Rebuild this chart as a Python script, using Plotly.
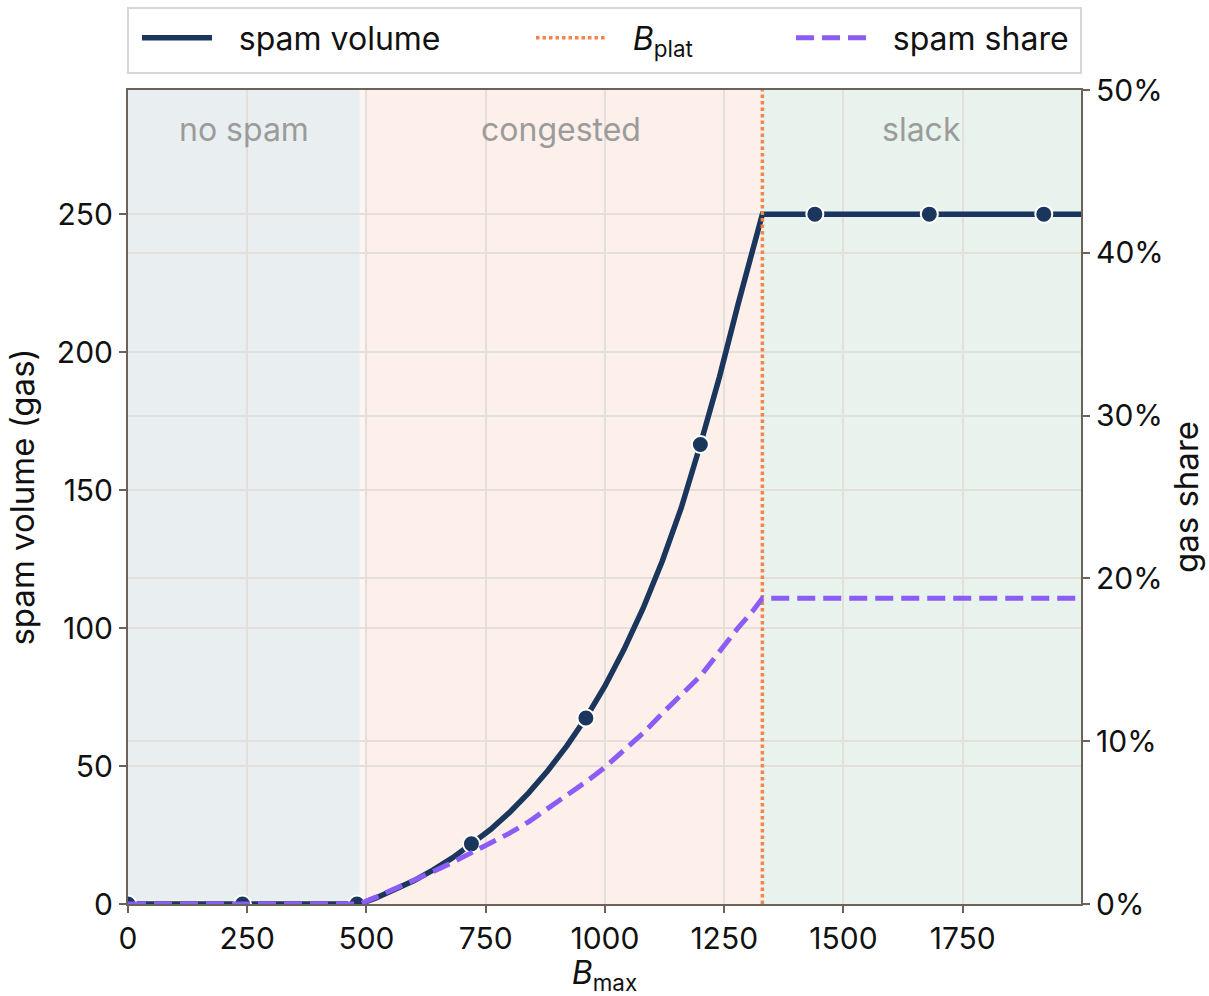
import plotly.graph_objects as go

# ---------------- data ----------------
b_max = [0, 240, 480, 486, 520, 560, 600, 640, 680, 720, 760, 800, 840, 880, 920,
         960, 1000, 1040, 1080, 1120, 1160, 1200, 1240, 1280, 1310, 1330,
         1440, 1680, 1920, 1998]
spam_volume = [0, 0, 0, 0, 2.2, 5.1, 8.5, 12.4, 16.7, 21.8, 27.0, 33.2, 40.3, 48.3, 57.3,
               67.4, 79.0, 92.3, 107.2, 124.2, 143.6, 166.5, 191.0, 218.0, 237.0, 250.0,
               250, 250, 250, 250]
spam_share = [0, 0, 0, 0, 0.0042, 0.0093, 0.0145, 0.020, 0.0255, 0.0315, 0.037, 0.0435,
              0.0505, 0.0585, 0.0665, 0.075, 0.084, 0.094, 0.105, 0.117, 0.129, 0.140,
              0.155, 0.170, 0.180, 0.1878, 0.1878, 0.1878, 0.1878, 0.1878]

marker_x = [0, 240, 480, 720, 960, 1200, 1440, 1680, 1920]
marker_v = [0, 0, 0, 21.8, 67.4, 166.5, 250, 250, 250]

b_plat = 1330
x_range = [0, 1998]
y_range = [0, 295]
share_range = [0, 0.5]

x_ticks = [0, 250, 500, 750, 1000, 1250, 1500, 1750]
y_ticks = [0, 50, 100, 150, 200, 250]
share_ticks = [0, 0.1, 0.2, 0.3, 0.4, 0.5]

# regions: (start, end, fill colour)
regions = [
    (0, 486, "#e9eff0"),
    (486, 500, "#fef4f0"),
    (500, 1330, "#fdefe9"),
    (1330, 1998, "#e8f3ed"),
]
region_labels = [(243, "no spam"), (908, "congested"), (1664, "slack")]

NAVY = "#1b365d"
PURPLE = "#8b5cf6"
ORANGE = "#f3844a"
SPINE = "#6b6359"
GRID = "#e4dfda"
FONT = "Inter, Roboto, DejaVu Sans, sans-serif"

W, H = 1209, 996
ML, MR, MT, MB = 128, 128, 90, 92
PW, PH = W - ML - MR, H - MT - MB


def px_to_paper_x(px):
    return (px - ML) / PW


def px_to_paper_y(py):
    return 1 + (MT - py) / PH


GAP = "\u2002\u2009"

fig = go.Figure()

fig.add_trace(go.Scatter(
    x=b_max, y=spam_volume, mode="lines", name=GAP + "spam volume",
    line=dict(color=NAVY, width=5.5), yaxis="y", legend="legend",
))
fig.add_trace(go.Scatter(
    x=marker_x, y=marker_v, mode="markers", showlegend=False,
    marker=dict(color=NAVY, size=17, line=dict(color="white", width=2)),
    yaxis="y",
))
fig.add_trace(go.Scatter(
    x=[b_plat, b_plat], y=y_range, mode="lines", name=GAP + "<i>B</i><sub>plat</sub>",
    line=dict(color=ORANGE, width=3.5, dash="3.5px,3px"), yaxis="y", legend="legend2",
))
fig.add_trace(go.Scatter(
    x=b_max, y=spam_share, mode="lines", name=GAP + "spam share",
    line=dict(color=PURPLE, width=5, dash="18px,8px"), yaxis="y2", legend="legend3",
))

shapes = []
for x0, x1, col in regions:
    shapes.append(dict(type="rect", xref="x", yref="paper", x0=x0, x1=x1, y0=0, y1=1,
                       fillcolor=col, line=dict(width=0), layer="below"))
# legend frame
shapes.append(dict(type="rect", xref="paper", yref="paper",
                   x0=0, x1=1, y0=px_to_paper_y(73), y1=px_to_paper_y(8),
                   line=dict(color="#d6d6d6", width=2), fillcolor="rgba(0,0,0,0)"))

annotations = []
for xc, txt in region_labels:
    annotations.append(dict(x=xc, y=px_to_paper_y(129), xref="x", yref="paper", text=txt,
                            showarrow=False, yanchor="middle",
                            font=dict(size=32, color="#9b9b9b", family=FONT)))

axis_common = dict(
    showline=True, linecolor=SPINE, linewidth=2,
    ticks="outside", ticklen=7, tickwidth=2, tickcolor=SPINE,
    showgrid=True, gridcolor=GRID, gridwidth=1.5, zeroline=False,
    tickfont=dict(size=30, color="#111111", family=FONT),
    automargin=False,
)

legend_common = dict(orientation="h", xanchor="left", yanchor="middle",
                     y=px_to_paper_y(38), bgcolor="rgba(0,0,0,0)", borderwidth=0,
                     font=dict(size=32, family=FONT, color="#111111"), itemwidth=70)

fig.update_layout(
    width=W, height=H,
    margin=dict(l=ML, r=MR, t=MT, b=MB, autoexpand=False),
    paper_bgcolor="white", plot_bgcolor="white",
    font=dict(family=FONT, size=30, color="#111111"),
    shapes=shapes, annotations=annotations,
    xaxis=dict(range=x_range, tickvals=x_ticks, mirror=True,
               title=dict(text="<i>B</i><sub>max</sub>", font=dict(size=32, family=FONT), standoff=2),
               **axis_common),
    yaxis=dict(range=y_range, tickvals=y_ticks,
               title=dict(text="spam volume (gas)", font=dict(size=33, family=FONT), standoff=12),
               **axis_common),
    yaxis2=dict(range=share_range, tickvals=share_ticks, tickformat=".0%",
                overlaying="y", side="right",
                title=dict(text="gas share", font=dict(size=33, family=FONT), standoff=12),
                **axis_common),
    legend=dict(x=px_to_paper_x(137), **legend_common),
    legend2=dict(x=px_to_paper_x(531), **legend_common),
    legend3=dict(x=px_to_paper_x(791), **legend_common),
)

fig.write_html("out.html", config={"displayModeBar": False},
               post_script="document.body.style.margin='0';")
